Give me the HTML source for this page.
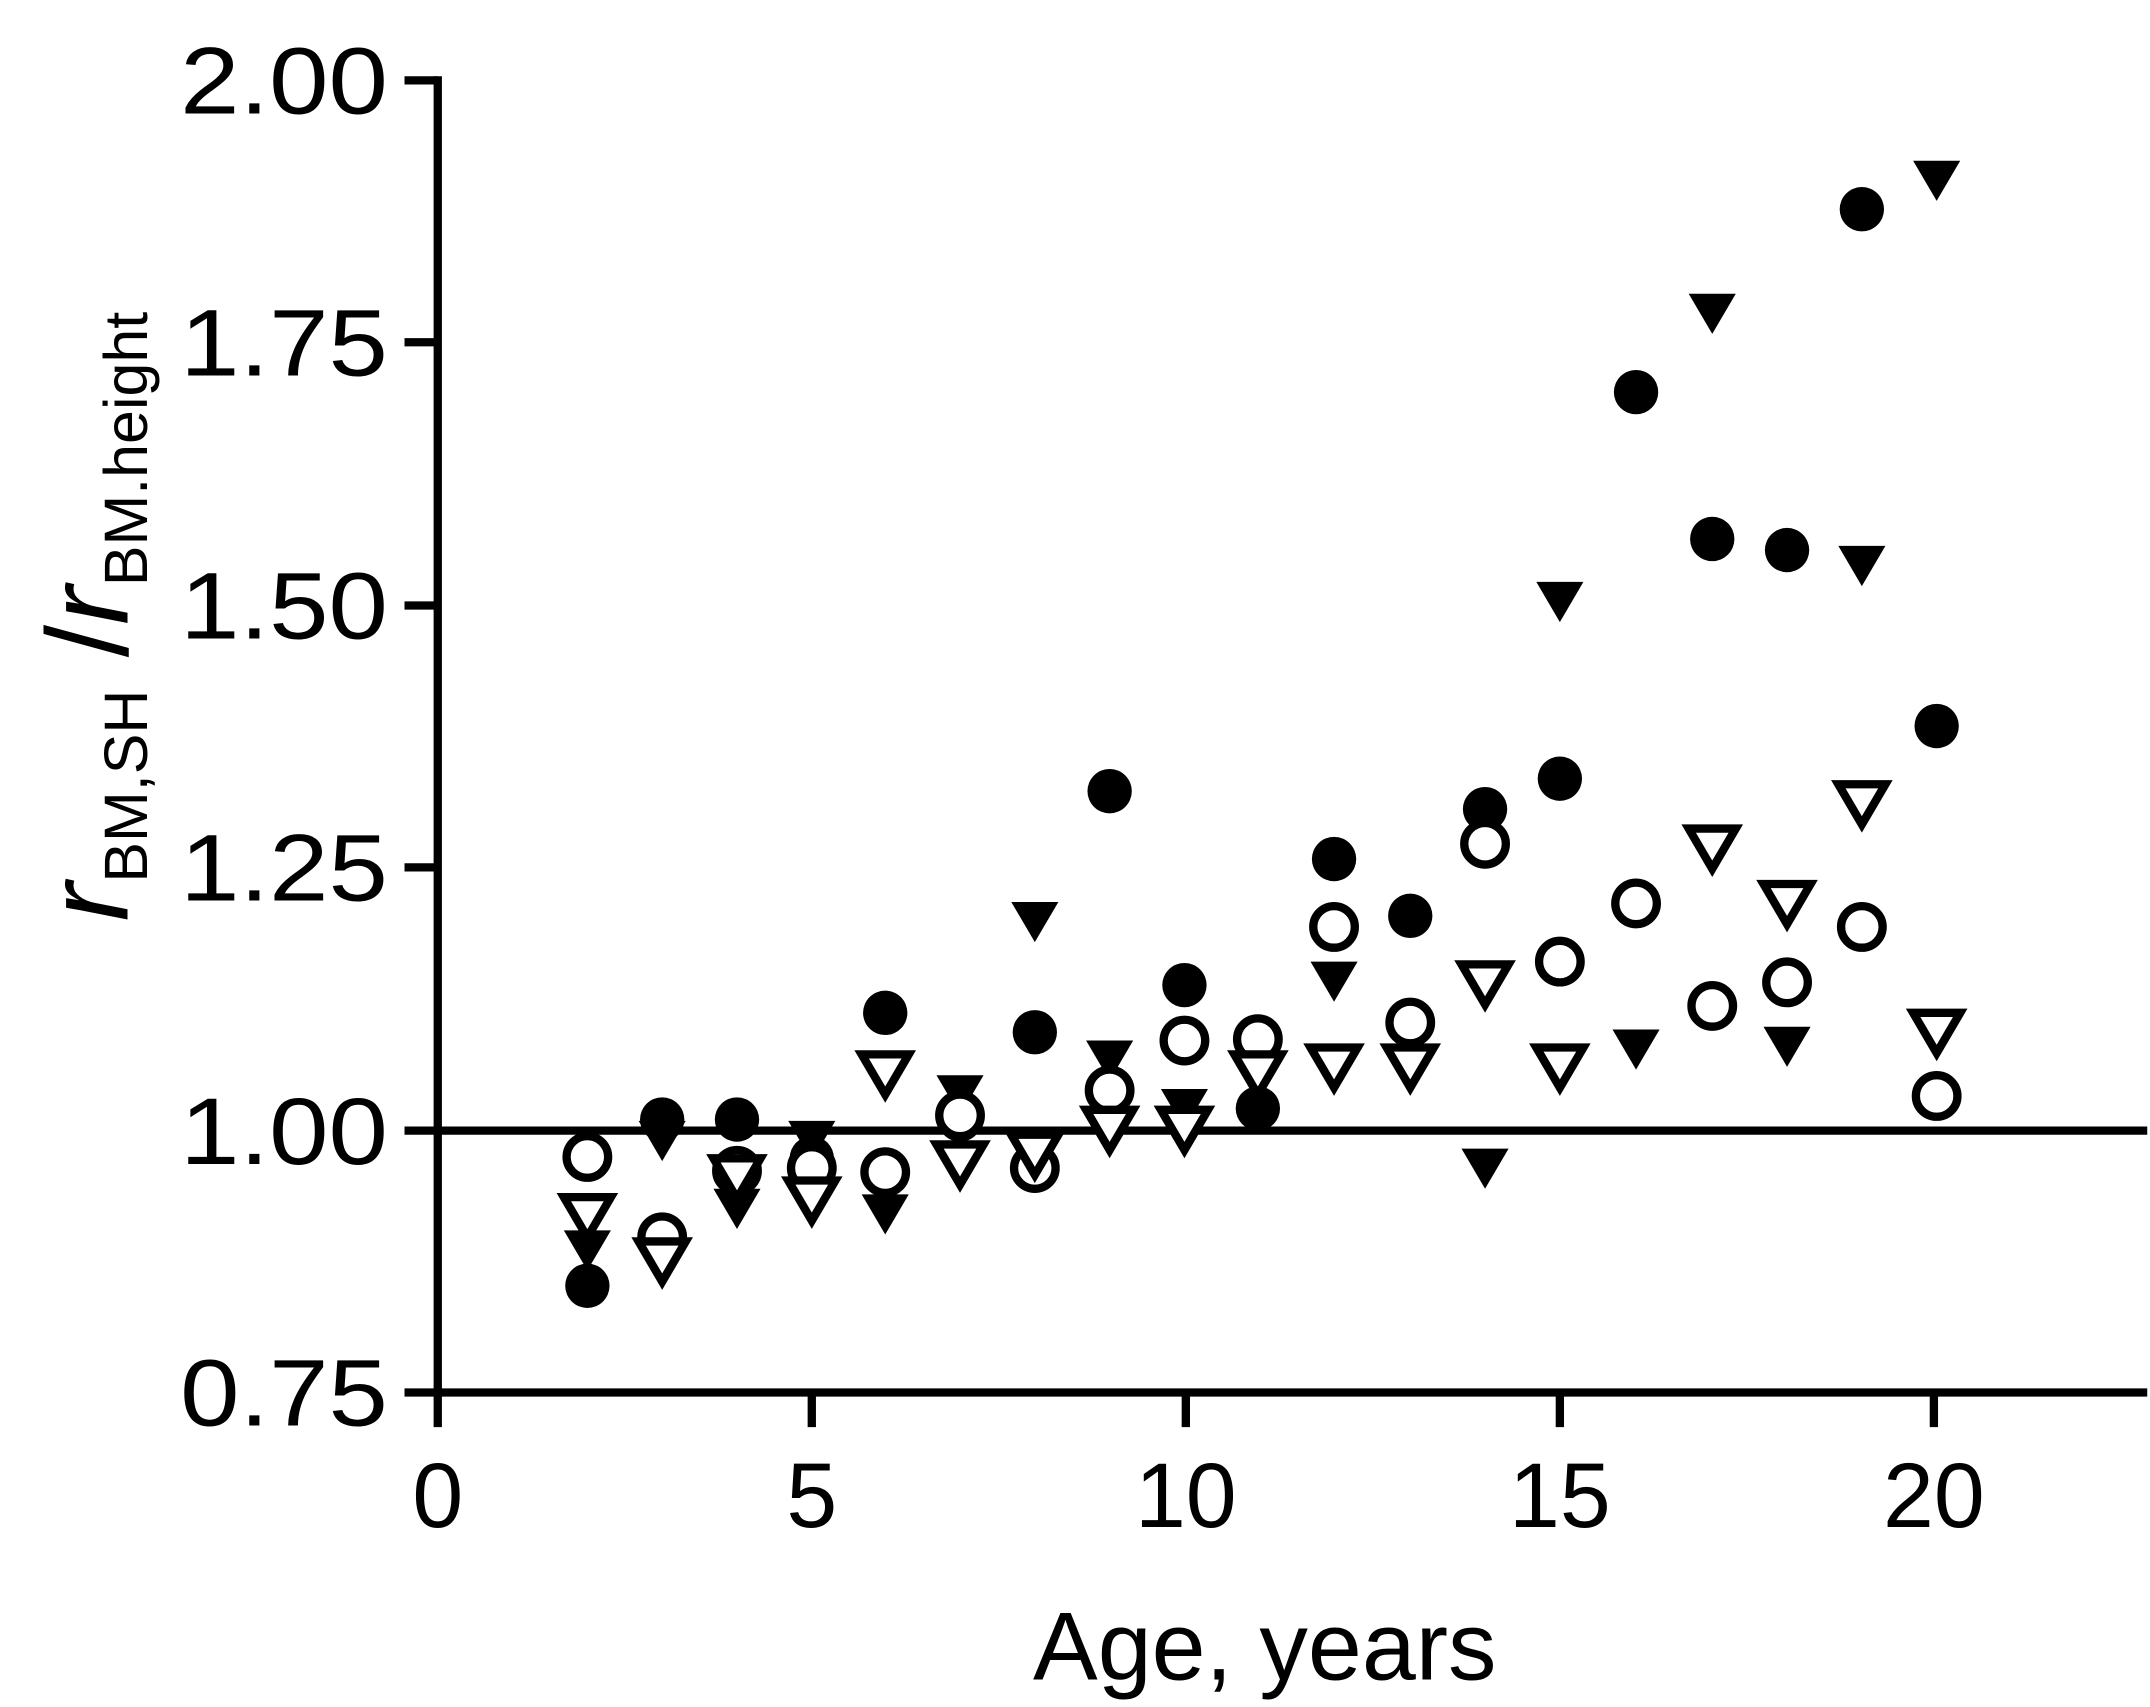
<!DOCTYPE html>
<html><head><style>html,body{margin:0;padding:0;background:#fff}svg{display:block}</style></head><body>
<svg width="2150" height="1707" viewBox="0 0 1552 1232" preserveAspectRatio="none" xmlns="http://www.w3.org/2000/svg" font-family="Liberation Sans, sans-serif">
<defs>
<path id="td" d="M-17,-14 L17,-14 L0,15 Z"/>
</defs>
<g stroke="#000" stroke-width="6" fill="none">
<line x1="316" y1="55" x2="316" y2="1008"/>
<line x1="316" y1="1005" x2="1550" y2="1005"/>
<line x1="316" y1="816" x2="1550" y2="816"/>
<line x1="292" y1="58" x2="316" y2="58"/>
<line x1="292" y1="247" x2="316" y2="247"/>
<line x1="292" y1="437" x2="316" y2="437"/>
<line x1="292" y1="626" x2="316" y2="626"/>
<line x1="292" y1="816" x2="316" y2="816"/>
<line x1="292" y1="1005" x2="316" y2="1005"/>
<line x1="316" y1="1005" x2="316" y2="1030"/>
<line x1="586" y1="1005" x2="586" y2="1030"/>
<line x1="856" y1="1005" x2="856" y2="1030"/>
<line x1="1126" y1="1005" x2="1126" y2="1030"/>
<line x1="1396" y1="1005" x2="1396" y2="1030"/>
</g>
<g font-size="68" text-anchor="end">
<text x="280" y="82" textLength="150" lengthAdjust="spacingAndGlyphs">2.00</text>
<text x="280" y="271" textLength="150" lengthAdjust="spacingAndGlyphs">1.75</text>
<text x="280" y="461" textLength="150" lengthAdjust="spacingAndGlyphs">1.50</text>
<text x="280" y="650" textLength="150" lengthAdjust="spacingAndGlyphs">1.25</text>
<text x="280" y="840" textLength="150" lengthAdjust="spacingAndGlyphs">1.00</text>
<text x="280" y="1029" textLength="150" lengthAdjust="spacingAndGlyphs">0.75</text>
</g>
<g font-size="66" text-anchor="middle">
<text x="316" y="1102">0</text><text x="586" y="1102">5</text><text x="856" y="1102">10</text>
<text x="1126" y="1102">15</text><text x="1396" y="1102">20</text>
<text x="913" y="1212" font-size="70">Age, years</text>
</g>
<text transform="translate(92,445) rotate(-90)" font-size="84" text-anchor="middle"><tspan font-style="italic">r</tspan><tspan font-size="44" dy="14">BM,SH</tspan><tspan dy="-14"> /</tspan><tspan font-style="italic">r</tspan><tspan font-size="44" dy="14">BM.height</tspan></text>
<g fill="#000">
<circle cx="424" cy="928" r="16"/><circle cx="478" cy="808" r="16"/><circle cx="532" cy="808" r="16"/><circle cx="586" cy="836" r="16"/><circle cx="639" cy="731" r="16"/><circle cx="693" cy="808" r="16"/><circle cx="747" cy="745" r="16"/><circle cx="801" cy="571" r="16"/><circle cx="855" cy="711" r="16"/><circle cx="908" cy="800" r="16"/><circle cx="963" cy="620" r="16"/><circle cx="1018" cy="661" r="16"/><circle cx="1072" cy="584" r="16"/><circle cx="1126" cy="562" r="16"/><circle cx="1181" cy="283" r="16"/><circle cx="1236" cy="389" r="16"/><circle cx="1290" cy="397" r="16"/><circle cx="1344" cy="151" r="16"/><circle cx="1398" cy="524" r="16"/>
<use href="#td" x="424" y="902"/><use href="#td" x="478" y="823"/><use href="#td" x="532" y="872"/><use href="#td" x="586" y="823"/><use href="#td" x="639" y="876"/><use href="#td" x="693" y="790"/><use href="#td" x="747" y="665"/><use href="#td" x="801" y="765"/><use href="#td" x="855" y="800"/><use href="#td" x="908" y="770"/><use href="#td" x="963" y="708"/><use href="#td" x="1018" y="775"/><use href="#td" x="1072" y="843"/><use href="#td" x="1126" y="434"/><use href="#td" x="1181" y="757"/><use href="#td" x="1236" y="226"/><use href="#td" x="1290" y="755"/><use href="#td" x="1344" y="408"/><use href="#td" x="1398" y="130"/>
</g>
<g fill="#fff" stroke="#000" stroke-width="6">
<circle cx="424" cy="835" r="15"/><circle cx="478" cy="893" r="15"/><circle cx="532" cy="845" r="15"/><circle cx="586" cy="843" r="15"/><circle cx="639" cy="846" r="15"/><circle cx="693" cy="805" r="15"/><circle cx="747" cy="843" r="15"/><circle cx="801" cy="787" r="15"/><circle cx="855" cy="751" r="15"/><circle cx="908" cy="750" r="15"/><circle cx="963" cy="669" r="15"/><circle cx="1018" cy="738" r="15"/><circle cx="1072" cy="609" r="15"/><circle cx="1126" cy="694" r="15"/><circle cx="1181" cy="652" r="15"/><circle cx="1236" cy="726" r="15"/><circle cx="1290" cy="709" r="15"/><circle cx="1344" cy="669" r="15"/><circle cx="1398" cy="791" r="15"/>
<use href="#td" x="424" y="878"/><use href="#td" x="478" y="910"/><use href="#td" x="532" y="850"/><use href="#td" x="586" y="866"/><use href="#td" x="639" y="775"/><use href="#td" x="693" y="840"/><use href="#td" x="747" y="833"/><use href="#td" x="801" y="815"/><use href="#td" x="855" y="815"/><use href="#td" x="908" y="775"/><use href="#td" x="963" y="770"/><use href="#td" x="1018" y="770"/><use href="#td" x="1072" y="710"/><use href="#td" x="1126" y="770"/><use href="#td" x="1236" y="612"/><use href="#td" x="1290" y="652"/><use href="#td" x="1344" y="580"/><use href="#td" x="1398" y="745"/>
</g>
</svg>
</body></html>
